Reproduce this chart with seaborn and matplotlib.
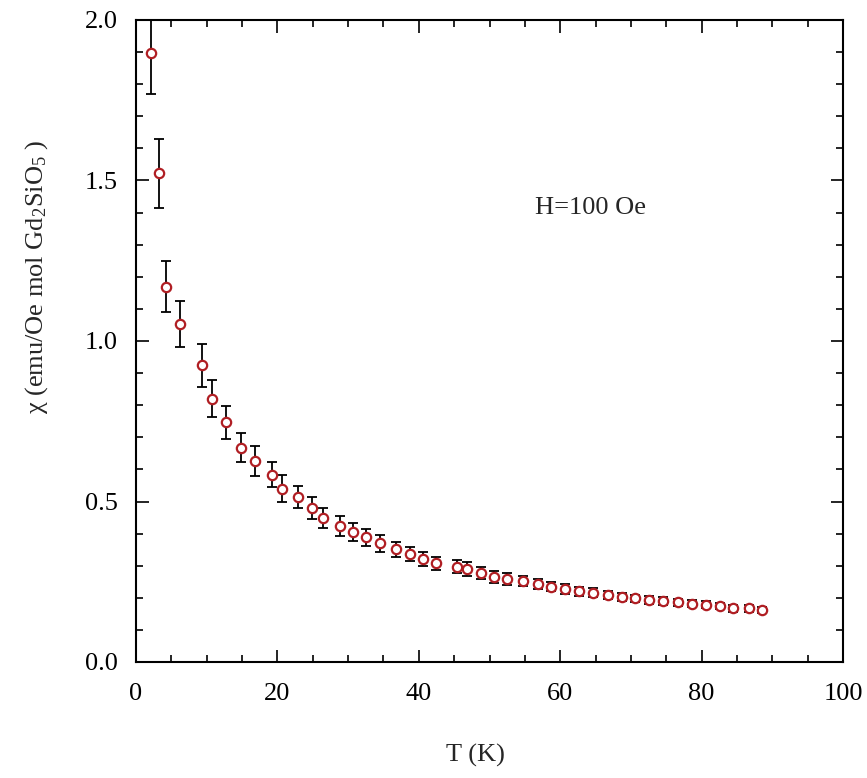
import matplotlib
matplotlib.use("Agg")
import matplotlib.pyplot as plt
import seaborn as sns
import numpy as np
import pandas as pd

T = [2.1, 3.3, 4.3, 6.2, 9.3, 10.7, 12.7, 14.9, 16.8, 19.3, 20.7, 22.9, 24.9, 26.4,
     28.8, 30.7, 32.6, 34.5, 36.8, 38.7, 40.6, 42.5, 45.4, 46.8, 48.8, 50.6, 52.5,
     54.8, 56.8, 58.7, 60.7, 62.6, 64.6, 66.8, 68.7, 70.6, 72.6, 74.5, 76.7, 78.7,
     80.6, 82.6, 84.5, 86.7, 88.6]
chi = [1.896, 1.522, 1.169, 1.053, 0.925, 0.820, 0.747, 0.668, 0.626, 0.583, 0.540,
       0.514, 0.479, 0.450, 0.425, 0.406, 0.388, 0.370, 0.351, 0.336, 0.320, 0.307,
       0.297, 0.289, 0.278, 0.266, 0.259, 0.253, 0.242, 0.235, 0.228, 0.221, 0.216,
       0.209, 0.203, 0.198, 0.193, 0.190, 0.186, 0.181, 0.178, 0.174, 0.167, 0.167,
       0.162]
err = [0.127, 0.107, 0.079, 0.073, 0.067, 0.058, 0.052, 0.046, 0.046, 0.039, 0.042,
       0.035, 0.034, 0.031, 0.031, 0.028, 0.027, 0.027, 0.023, 0.022, 0.022, 0.021,
       0.021, 0.022, 0.019, 0.019, 0.018, 0.016, 0.016, 0.015, 0.015, 0.014, 0.013,
       0.013, 0.012, 0.012, 0.012, 0.012, 0.011, 0.011, 0.011, 0.010, 0.010, 0.010,
       0.010]

x_ticks = [0, 20, 40, 60, 80, 100]
y_ticks = [0.0, 0.5, 1.0, 1.5, 2.0]

df = pd.DataFrame({"T": T, "chi": chi, "err": err})

sns.set_theme(style="ticks")
plt.rcParams["font.family"] = ["Liberation Serif", "DejaVu Serif"]
plt.rcParams["mathtext.fontset"] = "custom"
plt.rcParams["mathtext.rm"] = "Liberation Serif"
plt.rcParams["mathtext.it"] = "Liberation Serif:italic"
plt.rcParams["mathtext.default"] = "regular"

fig = plt.figure(figsize=(8.67, 7.78), dpi=100)
ax = fig.add_axes([136/867, 1-662/778, (843-136)/867, (662-20)/778])

ax.errorbar(df["T"], df["chi"], yerr=df["err"], fmt="none", ecolor="black",
            elinewidth=1.3, capsize=3.6, capthick=1.3, zorder=2)
sns.scatterplot(data=df, x="T", y="chi", ax=ax, marker="o", s=45,
                facecolor="white", edgecolor="#b01e23", linewidth=1.6, zorder=3)

ax.set_xlim(0, 100)
ax.set_ylim(0, 2.0)
ax.set_xticks(x_ticks)
ax.set_xticklabels([str(v) for v in x_ticks])
ax.set_yticks(y_ticks)
ax.set_yticklabels([f"{v:.1f}" for v in y_ticks])
ax.set_xticks(np.arange(0, 101, 5), minor=True)
ax.set_yticks(np.arange(0, 2.01, 0.1), minor=True)
ax.tick_params(which="both", direction="in", top=True, right=True,
               labelsize=19, width=1.2, colors="black")
ax.tick_params(which="major", length=9)
ax.tick_params(axis="y", which="major", pad=13)
ax.tick_params(axis="x", which="major", pad=15)
ax.tick_params(which="minor", length=4.8)
for s in ax.spines.values():
    s.set_visible(True)
    s.set_linewidth(1.5)
    s.set_color("black")

ax.set_xlabel("T (K)", fontsize=19)
ax.xaxis.set_label_coords(0.48, -0.128)
ax.set_ylabel(r"χ (emu/Oe mol Gd$_2$SiO$_5$ )", fontsize=19)
ax.yaxis.set_label_coords(-0.122, 0.60)
ax.text(64.3, 1.413, "H=100 Oe", fontsize=19, ha="center", va="center")

fig.savefig("out.png", dpi=100)
